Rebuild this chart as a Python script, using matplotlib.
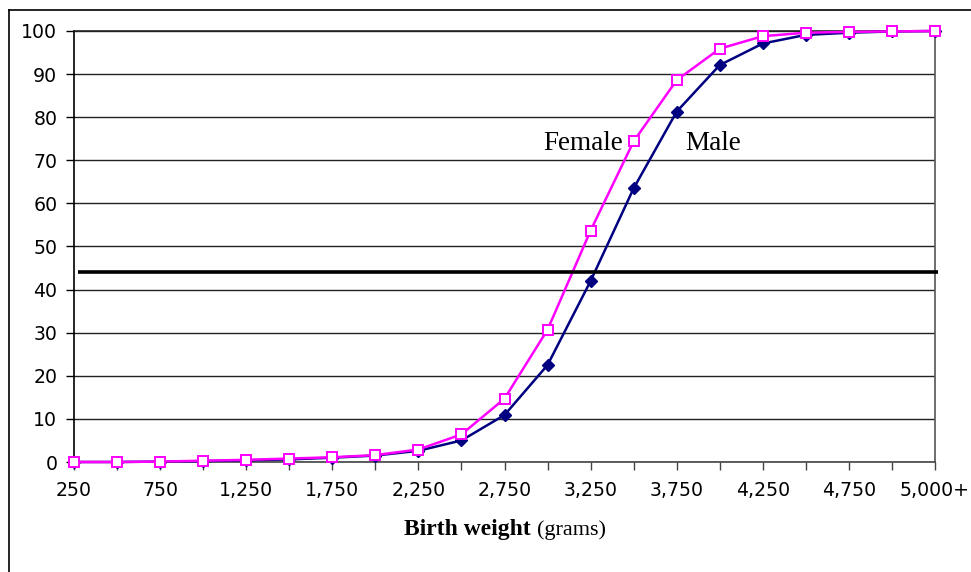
import numpy as np
import matplotlib.pyplot as plt
from matplotlib.lines import Line2D

# birth weight categories (grams), cumulative percent
weights = ["250", "500", "750", "1,000", "1,250", "1,500", "1,750", "2,000",
           "2,250", "2,500", "2,750", "3,000", "3,250", "3,500", "3,750",
           "4,000", "4,250", "4,500", "4,750", "5,000", "5,000+"]
female = [0.0, 0.0, 0.1, 0.3, 0.5, 0.8, 1.1, 1.6, 2.9, 6.4, 14.7, 30.7,
          53.7, 74.4, 88.6, 95.9, 98.8, 99.6, 99.8, 99.9, 100.0]
male = [0.0, 0.0, 0.1, 0.2, 0.4, 0.6, 1.0, 1.5, 2.6, 5.0, 10.9, 22.5,
        42.0, 63.5, 81.3, 92.1, 97.1, 99.1, 99.6, 99.9, 100.0]
ref_level = 44.0

fig = plt.figure(figsize=(9.71, 5.72), dpi=100)
ax = fig.add_axes([74 / 971, 1 - 462 / 572, (935 - 74) / 971, (462 - 31) / 572])

x = np.arange(len(weights))
ax.set_xlim(0, len(weights) - 1)
ax.set_ylim(0, 100)

ax.yaxis.grid(True, color="#222222", lw=1.0)
ax.set_axisbelow(True)

ax.plot(x, male, color="#000080", lw=1.8, marker="D", ms=6,
        mfc="#000080", mec="#000080", clip_on=False, zorder=3)
ax.plot(x, female, color="#FF00FF", lw=1.8, marker="s", ms=6.5,
        mfc="white", mec="#FF00FF", mew=1.4, clip_on=False, zorder=4)

ax.hlines(ref_level, 0.09, 20.07, color="black", lw=2.6, clip_on=False, zorder=5)

ax.text(11.82, 74, "Female", family="Liberation Serif", fontsize=19.5,
        ha="center", va="center")
ax.text(14.85, 74, "Male", family="Liberation Serif", fontsize=19.5,
        ha="center", va="center")

ax.set_yticks(range(0, 101, 10))
ax.set_xticks(x)
ax.set_xticklabels([w if i % 2 == 0 else "" for i, w in enumerate(weights)])
ax.tick_params(axis="both", labelsize=13.6, colors="black", direction="out",
               length=6, width=1)
ax.tick_params(axis="x", pad=8, colors="#444444", labelcolor="black")
ax.tick_params(axis="y", pad=6)
for lab in ax.get_xticklabels() + ax.get_yticklabels():
    lab.set_family("DejaVu Sans")

ax.spines["left"].set_color("black")
ax.spines["bottom"].set_color("#444444")
ax.spines["right"].set_color("#555555")
ax.spines["top"].set_color("#222222")
for s in ax.spines.values():
    s.set_linewidth(1.2)

# x-axis title: bold part + regular part, placed side by side
yl = 1 - 530 / 572
t1 = fig.text(404 / 971, yl, "Birth weight", family="Liberation Serif",
              fontsize=17, fontweight="bold", ha="left", va="center")
r = fig.canvas.get_renderer()
bb = t1.get_window_extent(renderer=r)
fig.text((bb.x1 + 6) / 971, yl, "(grams)", family="Liberation Serif",
         fontsize=16, ha="left", va="center")

# outer frame (top and left edges visible)
fig.add_artist(Line2D([9 / 971, 9 / 971], [0, 1 - 10 / 572], color="black",
                      lw=1.2, transform=fig.transFigure))
fig.add_artist(Line2D([9 / 971, 1], [1 - 10 / 572, 1 - 10 / 572], color="black",
                      lw=1.2, transform=fig.transFigure))

fig.savefig("out.png", dpi=100)
